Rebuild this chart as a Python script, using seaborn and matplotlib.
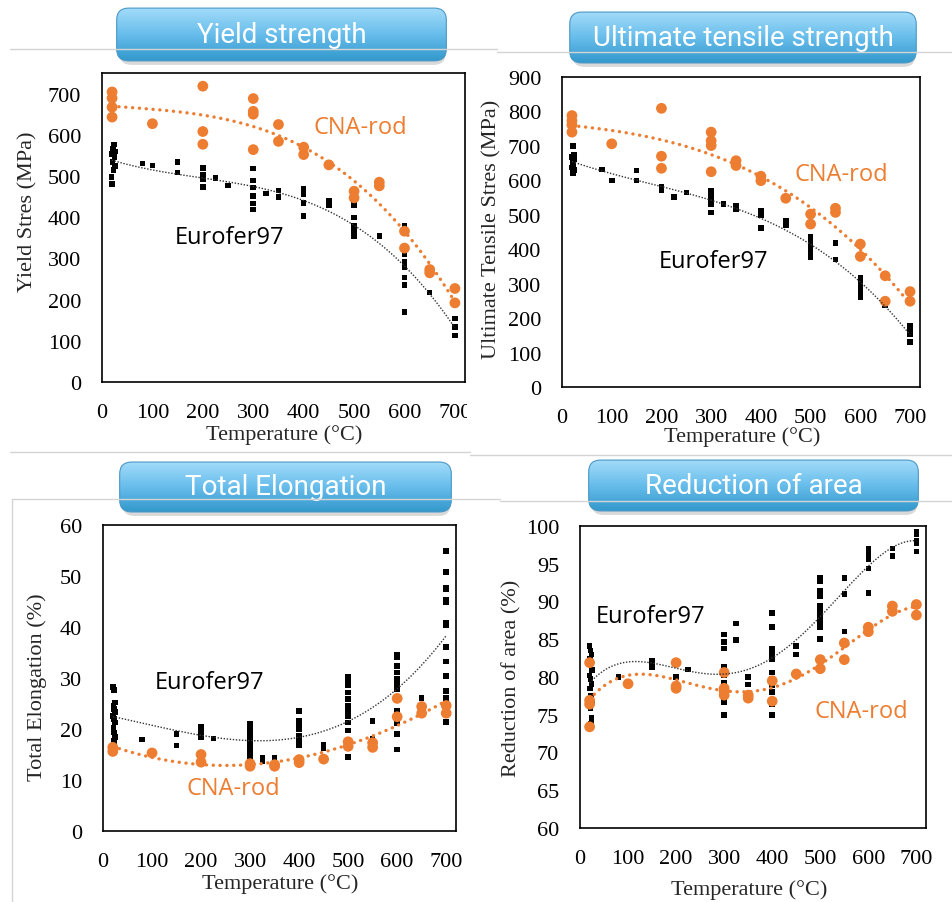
import numpy as np
import matplotlib.pyplot as plt
import seaborn as sns
from matplotlib.patches import FancyBboxPatch
from matplotlib.lines import Line2D
from matplotlib.colors import LinearSegmentedColormap
from matplotlib.transforms import Bbox, TransformedBbox

ORANGE = "#ED7D31"

# ---- Yield strength (MPa) ----
ys_eu_T = [24, 22, 26, 20, 25, 21, 26, 23, 19, 20,
           80, 100, 150, 150, 200, 200, 200, 200, 225, 250,
           300, 300, 300, 300, 300, 300, 325, 350, 350,
           400, 400, 400, 400, 450, 450,
           500, 500, 500, 500, 500, 550,
           600, 600, 600, 600, 600, 600, 600, 650,
           700, 700, 700]
ys_eu = [576, 566, 560, 554, 546, 534, 524, 514, 498, 481,
         530, 526, 534, 508, 519, 503, 491, 473, 495, 477,
         518, 489, 472, 451, 433, 419, 457, 465, 449,
         468, 456, 434, 403, 439, 429,
         429, 399, 380, 368, 354, 354,
         380, 309, 293, 279, 254, 235, 170, 217,
         154, 133, 113]
ys_cna_T = [20, 20, 20, 20, 100, 200, 200, 200, 300, 300, 300, 300, 350, 350,
            400, 400, 450, 500, 500, 550, 550, 600, 600, 650, 650, 700, 700]
ys_cna = [704, 689, 667, 643, 627, 718, 608, 577, 688, 657, 650, 564, 625, 584,
          570, 552, 527, 463, 447, 485, 476, 366, 325, 273, 265, 227, 192]

# ---- Ultimate tensile strength (MPa) ----
ut_eu_T = [22, 24, 20, 25, 21, 23, 20, 24, 22,
           80, 100, 150, 150, 200, 200, 225, 250,
           300, 300, 300, 300, 300, 325, 350, 350,
           400, 400, 400, 450, 450,
           500, 500, 500, 500, 500, 550, 550,
           600, 600, 600, 600, 600, 650,
           700, 700, 700, 700]
ut_eu = [699, 675, 668, 660, 652, 645, 637, 630, 622,
         631, 599, 628, 599, 580, 570, 551, 565,
         570, 558, 543, 531, 507, 531, 527, 517,
         512, 498, 462, 483, 469,
         435, 420, 406, 391, 377, 418, 370,
         318, 304, 289, 275, 260, 238,
         178, 164, 154, 130]
ut_cna_T = [20, 20, 20, 20, 100, 200, 200, 200, 300, 300, 300, 300, 350, 350,
            400, 400, 450, 500, 500, 550, 550, 600, 600, 650, 650, 700, 700]
ut_cna = [788, 773, 761, 740, 706, 809, 670, 635, 740, 715, 701, 625, 657, 643,
          612, 599, 548, 502, 473, 519, 507, 415, 379, 323, 249, 277, 249]

# ---- Total elongation (%) ----
el_eu_T = [20, 22, 24, 21, 23, 25, 20, 22, 24, 21, 23, 25, 22,
           80, 150, 150, 200, 200, 200, 200, 225,
           300, 300, 300, 300, 300, 300, 300, 300, 300, 300, 325, 325, 350,
           400, 400, 400, 400, 400, 400, 400, 450, 450,
           500, 500, 500, 500, 500, 500, 500, 500, 500, 500, 500, 500, 550, 550,
           600, 600, 600, 600, 600, 600, 600, 600, 600, 600, 600, 600, 600, 650,
           700, 700, 700, 700, 700, 700, 700, 700, 700, 700, 700, 700, 700, 700]
el_eu = [28.2, 27.7, 25.2, 24.6, 23.9, 23.3, 22.6, 22.0, 21.3, 20.3, 19.3, 18.4, 17.7,
         17.9, 19.0, 16.8, 20.5, 19.9, 19.0, 18.4, 18.1,
         21.0, 20.3, 19.6, 19.0, 18.3, 17.6, 16.9, 16.2, 15.5, 14.7, 14.3, 13.6, 14.3,
         23.5, 21.6, 20.7, 19.9, 18.7, 17.7, 16.8, 16.9, 16.2,
         30.3, 29.5, 28.5, 27.2, 25.9, 24.6, 23.6, 22.6, 21.3, 19.7, 17.1, 14.5, 21.6, 18.1,
         34.5, 34.0, 32.4, 31.1, 29.8, 28.8, 27.8, 25.6, 23.6, 22.0, 21.2, 19.0, 16.0, 26.1,
         54.9, 50.8, 47.7, 47.4, 45.4, 44.8, 40.9, 40.4, 36.1, 33.2, 30.4, 27.5, 26.1, 21.4]
el_cna_T = [20, 20, 100, 200, 200, 300, 300, 350, 350, 400, 400,
            450, 500, 500, 550, 550, 600, 600, 650, 650, 700, 700]
el_cna = [16.4, 15.6, 15.3, 15.0, 13.5, 13.2, 12.7, 13.0, 12.7, 14.0, 13.4,
          14.1, 17.5, 16.6, 17.3, 16.4, 26.0, 22.4, 24.4, 23.1, 24.6, 23.1]

# ---- Reduction of area (%) ----
ra_eu_T = [20, 22, 24, 21, 23, 25, 20, 22, 24, 21, 23, 25, 22, 24, 23,
           80, 150, 150, 200, 225,
           300, 300, 300, 300, 300, 300, 300, 300, 325, 325, 350, 350,
           400, 400, 400, 400, 400, 400, 400, 400, 400, 400, 400, 450, 450,
           500, 500, 500, 500, 500, 500, 500, 500, 500, 500, 550, 550, 550,
           600, 600, 600, 600, 600, 650, 650,
           700, 700, 700, 700, 700]
ra_eu = [84.1, 83.5, 83.0, 82.4, 81.9, 80.9, 80.2, 79.7, 79.1, 78.5, 77.5, 76.6, 75.8, 74.6, 73.8,
         80.0, 82.1, 81.3, 80.0, 81.0,
         85.6, 84.6, 83.8, 81.3, 80.2, 79.3, 76.7, 75.0, 87.1, 84.9, 80.0, 79.0,
         88.5, 86.6, 83.7, 82.9, 82.4, 80.6, 79.7, 78.9, 78.0, 76.4, 75.0, 84.1, 83.0,
         93.1, 92.7, 91.4, 90.7, 89.4, 88.8, 88.1, 87.4, 86.6, 85.0, 93.1, 91.0, 86.0,
         97.0, 96.3, 95.6, 94.4, 91.1, 97.0, 96.0,
         99.3, 98.9, 98.0, 97.7, 96.6]
ra_cna_T = [20, 20, 20, 20, 100, 200, 200, 200, 300, 300, 300, 300, 350, 350,
            400, 400, 450, 500, 500, 550, 550, 600, 600, 650, 650, 700, 700]
ra_cna = [81.9, 76.9, 76.4, 73.4, 79.1, 81.9, 78.8, 78.5, 80.6, 78.5, 78.1, 77.6, 77.6, 77.2,
          79.5, 76.8, 80.4, 82.3, 81.1, 84.5, 82.3, 86.6, 86.0, 89.4, 88.7, 89.6, 88.2]

temp_ticks = [0, 100, 200, 300, 400, 500, 600, 700]

sns.set_style("white")
plt.rcParams["font.family"] = "Liberation Serif"

W, H = 953, 903
fig = plt.figure(figsize=(W / 100, H / 100), dpi=100)


def fx(px):
    return px / W


def fy(py):
    return 1 - py / H


panels = [
    dict(frame=(102, 74, 465, 383), ylim=(0, 750), yticks=range(0, 701, 100),
         ylabel="Yield Stres (MPa)", ylab_xy=(28, 212), xlab_xy=(284, 435),
         eu=(ys_eu_T, ys_eu), cna=(ys_cna_T, ys_cna), order=(3, 3),
         eu_txt=(254, 353), cna_txt=(513, 620)),
    dict(frame=(562, 78, 920, 388), ylim=(0, 900), yticks=range(0, 901, 100),
         ylabel="Ultimate Tensile Stres (MPa)", ylab_xy=(492, 229), xlab_xy=(742, 437),
         eu=(ut_eu_T, ut_eu), cna=(ut_cna_T, ut_cna), order=(3, 3),
         eu_txt=(305, 366), cna_txt=(562, 619)),
    dict(frame=(103, 526, 456, 832), ylim=(0, 60), yticks=range(0, 61, 10),
         ylabel="Total Elongation (%)", ylab_xy=(37, 687), xlab_xy=(280, 884),
         eu=(el_eu_T, el_eu), cna=(el_cna_T, el_cna), order=(3, 3),
         eu_txt=(217, 29.2), cna_txt=(266, 8.4)),
    dict(frame=(580, 527, 926, 829), ylim=(60, 100), yticks=range(60, 101, 5),
         ylabel="Reduction of area (%)", ylab_xy=(512, 678), xlab_xy=(749, 890),
         eu=(ra_eu_T, ra_eu), cna=(ra_cna_T, ra_cna), order=(4, 4),
         eu_txt=(146, 88.1), cna_txt=(585, 75.5)),
]

axes = []
for p in panels:
    l, t, r, b = p["frame"]
    ax = fig.add_axes([fx(l), fy(b), fx(r) - fx(l), fy(t) - fy(b)])
    axes.append(ax)

    sns.scatterplot(x=p["eu"][0], y=p["eu"][1], marker="s", color="black",
                    s=16, edgecolor="none", ax=ax, zorder=3)
    sns.scatterplot(x=p["cna"][0], y=p["cna"][1], marker="o", color=ORANGE,
                    s=60, edgecolor="none", ax=ax, zorder=4)
    sns.regplot(x=p["eu"][0], y=p["eu"][1], order=p["order"][0], ci=None,
                scatter=False, ax=ax,
                line_kws=dict(color="#333333", lw=1.0, ls=(0, (1, 1.2)), zorder=5))
    sns.regplot(x=p["cna"][0], y=p["cna"][1], order=p["order"][1], ci=None,
                scatter=False, ax=ax,
                line_kws=dict(color=ORANGE, lw=2.4, ls=(0, (0.05, 2.0)),
                              dash_capstyle="round", zorder=5))

    ax.set_xlim(0, 720)
    ax.set_ylim(*p["ylim"])
    ax.set_xticks(temp_ticks)
    ax.set_yticks(list(p["yticks"]))
    ax.tick_params(direction="in", length=6, width=1, labelsize=16, pad=15,
                   colors="black")
    for s in ax.spines.values():
        s.set_color("black")
        s.set_linewidth(1.2)

    ax.set_ylabel(p["ylabel"], fontsize=16)
    ax.yaxis.set_label_coords(fx(p["ylab_xy"][0]), fy(p["ylab_xy"][1]),
                              transform=fig.transFigure)
    ax.yaxis.label.set_va("center")
    ax.set_xlabel("Temperature (°C)", fontsize=16)
    ax.xaxis.set_label_coords(fx(p["xlab_xy"][0]), fy(p["xlab_xy"][1]),
                              transform=fig.transFigure)
    ax.xaxis.label.set_va("center")

    ax.text(*p["eu_txt"], "Eurofer97", color="black", fontsize=17,
            family="Open Sans", ha="center", va="center")
    ax.text(*p["cna_txt"], "CNA-rod", color=ORANGE, fontsize=17,
            family="Open Sans", ha="center", va="center")

# the top-left picture is cut just after its last tick label
clip = TransformedBbox(Bbox([[0, 0], [fx(467), 1]]), fig.transFigure)
for lbl in axes[0].get_xticklabels():
    lbl.set_clip_box(clip)
    lbl.set_clip_on(True)

# thin grey panel borders
grey = "#d4d4d4"
for (x0, y0, x1, y1) in [(10, 50, 497, 50), (497, 53, 953, 53),
                         (10, 453, 470, 453), (470, 456, 953, 456),
                         (12, 500, 500, 500), (500, 502, 953, 502),
                         (12, 500, 12, 903)]:
    fig.add_artist(Line2D([fx(x0), fx(x1)], [fy(y0), fy(y1)], color=grey,
                          lw=1, transform=fig.transFigure))

# blue title buttons
cmap = LinearSegmentedColormap.from_list("btn", ["#3197CB", "#67BDEB", "#A4DCFA"])
titles = [("Yield strength", (115, 8, 448, 63)),
          ("Ultimate tensile strength", (568, 12, 918, 65)),
          ("Total Elongation", (118, 462, 453, 514)),
          ("Reduction of area", (587, 460, 920, 513))]
for txt, (l, t, r, b) in titles:
    wpx, hpx = r - l, b - t
    sh = fig.add_axes([fx(l + 1), fy(b + 4), wpx / W, hpx / H])
    sh.set_xlim(0, 1)
    sh.set_ylim(0, 1)
    sh.axis("off")
    sh.add_patch(FancyBboxPatch((0.01, 0.02), 0.98, 0.96,
                                boxstyle="round,pad=0,rounding_size=%f" % (12 / wpx),
                                mutation_aspect=wpx / hpx, fc="#000000",
                                ec="none", alpha=0.15))
    bx = fig.add_axes([fx(l), fy(b), wpx / W, hpx / H])
    bx.set_xlim(0, 1)
    bx.set_ylim(0, 1)
    bx.axis("off")
    patch = FancyBboxPatch((0.005, 0.02), 0.99, 0.96,
                           boxstyle="round,pad=0,rounding_size=%f" % (12 / wpx),
                           mutation_aspect=wpx / hpx, fc="none",
                           ec="#4A98C6", lw=0.8, zorder=3)
    bx.add_patch(patch)
    grad = np.linspace(0, 1, 64).reshape(-1, 1)
    im = bx.imshow(grad, cmap=cmap, extent=[0, 1, 0, 1], aspect="auto",
                   origin="lower", zorder=1)
    im.set_clip_path(patch)
    bx.text(0.5, 0.5, txt, color="white", fontsize=20, family="Roboto",
            ha="center", va="center", zorder=4)

fig.savefig("out.png", dpi=100)
